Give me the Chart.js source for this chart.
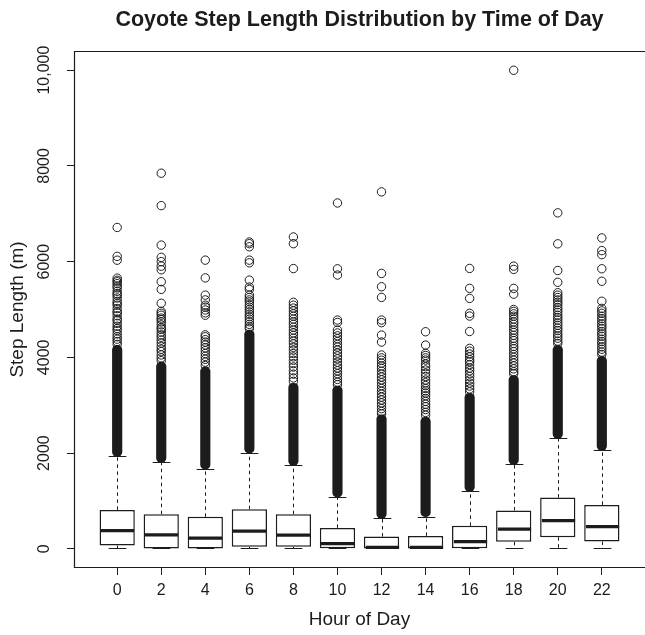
<!DOCTYPE html>
<html>
<head>
<meta charset="utf-8">
<script src="https://cdn.jsdelivr.net/npm/chart.js@4.4.1/dist/chart.umd.min.js"></script>
<style>
  html, body { margin: 0; padding: 0; background: #fff; }
  canvas { display: block; }
</style>
</head>
<body>
<canvas id="chart" width="645" height="635"></canvas>
<script>
// Hour of day for each box (every two hours)
const hours = [0, 2, 4, 6, 8, 10, 12, 14, 16, 18, 20, 22];

// Five-number summaries of step length (m)
const lowerWhisker  = [0, 0, 0, 0, 0, 0, 0, 0, 0, 0, 0, 0];
const lowerQuartile = [69, 8, 5, 42, 42, 15, 5, 5, 15, 146, 244, 153];
const medians       = [382, 292, 223, 369, 286, 111, 32, 32, 153, 411, 591, 465];
const upperQuartile = [814, 724, 668, 828, 724, 438, 257, 271, 480, 800, 1071, 918];
const upperWhisker  = [1934, 1809, 1670, 2003, 1746, 1085, 640, 674, 1204, 1767, 2310, 2060];

// Above each whisker the outliers overlap into one solid column up to here
const solidOutlierTop = [4250, 3900, 3800, 4570, 3460, 3400, 2800, 2750, 3250, 3620, 4250, 4020];

// Individually visible outliers above the solid column, per hour
const outliersH00 = [6714, 6110, 6030, 5655, 5610, 5580, 5540, 5490, 5450, 5380, 5330, 5300, 5240, 5170, 5130, 5090, 5020, 4960, 4930, 4870, 4800, 4770, 4710, 4650, 4600, 4560, 4490, 4430, 4380, 4330, 4270];
const outliersH02 = [7847, 7170, 6345, 6090, 6000, 5905, 5830, 5580, 5420, 5130, 4960, 4920, 4880, 4820, 4790, 4740, 4680, 4620, 4590, 4530, 4470, 4420, 4360, 4300, 4230, 4170, 4120, 4050, 3990, 3930];
const outliersH04 = [6031, 5660, 5300, 5200, 5090, 5050, 4990, 4930, 4880, 4470, 4430, 4370, 4320, 4260, 4200, 4140, 4080, 4020, 3960, 3900, 3830];
const outliersH06 = [6410, 6375, 6310, 6031, 5975, 5614, 5470, 5420, 5300, 5250, 5200, 5160, 5100, 5050, 5000, 4950, 4900, 4850, 4800, 4745, 4690, 4640, 4600];
const outliersH08 = [6515, 6375, 5855, 5150, 5090, 5030, 4970, 4910, 4860, 4800, 4740, 4690, 4630, 4570, 4510, 4460, 4400, 4340, 4280, 4210, 4150, 4080, 4010, 3940, 3870, 3800, 3720, 3650, 3570, 3500];
const outliersH10 = [7225, 5850, 5720, 4780, 4730, 4570, 4510, 4450, 4390, 4330, 4270, 4215, 4150, 4090, 4030, 3970, 3900, 3840, 3780, 3720, 3660, 3600, 3540, 3480, 3430];
const outliersH12 = [7457, 5754, 5475, 5253, 4780, 4725, 4466, 4320, 4050, 3990, 3940, 3880, 3820, 3770, 3710, 3650, 3590, 3530, 3470, 3410, 3350, 3290, 3230, 3170, 3110, 3050, 2990, 2930, 2870, 2820];
const outliersH14 = [4535, 4257, 4084, 4040, 3990, 3944, 3860, 3805, 3736, 3667, 3600, 3527, 3470, 3410, 3350, 3300, 3256, 3200, 3140, 3080, 3020, 2970, 2910, 2850, 2790];
const outliersH16 = [5858, 5441, 5232, 4919, 4863, 4540, 4188, 4130, 4070, 4010, 3950, 3909, 3850, 3777, 3720, 3660, 3600, 3530, 3464, 3400, 3340, 3280];
const outliersH18 = [9997, 5906, 5837, 5441, 5320, 5000, 4960, 4910, 4860, 4800, 4740, 4690, 4630, 4570, 4520, 4460, 4400, 4350, 4290, 4230, 4180, 4120, 4060, 4000, 3940, 3880, 3820, 3760, 3700, 3660];
const outliersH20 = [7019, 6372, 5815, 5568, 5350, 5300, 5250, 5200, 5150, 5100, 5040, 4990, 4940, 4880, 4830, 4780, 4720, 4670, 4610, 4560, 4500, 4450, 4400, 4340, 4290];
const outliersH22 = [6495, 6230, 6146, 5851, 5590, 5172, 5023, 4970, 4920, 4860, 4810, 4760, 4700, 4650, 4600, 4540, 4490, 4440, 4380, 4330, 4280, 4220, 4170, 4110, 4060];
const outliersByHour = [outliersH00, outliersH02, outliersH04, outliersH06, outliersH08, outliersH10,
                        outliersH12, outliersH14, outliersH16, outliersH18, outliersH20, outliersH22];

// Axis ticks
const yTicks = [0, 2000, 4000, 6000, 8000, 10000];
const yTickLabels = ['0', '2000', '4000', '6000', '8000', '10,000'];

const INK = '#1c1c1c';
const FONT = "'Liberation Sans', Arial, Helvetica, sans-serif";
const TITLE = 'Coyote Step Length Distribution by Time of Day';

const boxData = hours.map((h, i) => ({ x: h, y: [lowerQuartile[i], upperQuartile[i]] }));
const solidData = hours.map((h, i) => ({ x: h, y: [upperWhisker[i], solidOutlierTop[i]] }));
const outlierData = [];
hours.forEach((h, i) => outliersByHour[i].forEach(v => outlierData.push({ x: h, y: v })));

// Whiskers, caps and medians, positioned through the chart scales
const boxDetails = {
  id: 'boxDetails',
  afterDatasetsDraw(chart) {
    const { ctx, scales: { x, y } } = chart;
    const step = x.getPixelForValue(hours[1]) - x.getPixelForValue(hours[0]);
    const half = step * 0.4;
    const capHalf = half * 0.5;
    ctx.save();
    ctx.strokeStyle = INK;
    hours.forEach((h, i) => {
      const cx = Math.round(x.getPixelForValue(h)) + 0.5;
      const yLo = y.getPixelForValue(lowerWhisker[i]);
      const yQ1 = y.getPixelForValue(lowerQuartile[i]);
      const yMed = y.getPixelForValue(medians[i]);
      const yQ3 = y.getPixelForValue(upperQuartile[i]);
      const yHi = y.getPixelForValue(upperWhisker[i]);
      // dashed whiskers
      ctx.lineWidth = 1;
      ctx.setLineDash([3.5, 3.5]);
      ctx.beginPath();
      ctx.moveTo(cx, yQ3); ctx.lineTo(cx, yHi);
      if (yLo - yQ1 > 2) { ctx.moveTo(cx, yQ1); ctx.lineTo(cx, yLo); }
      ctx.stroke();
      ctx.setLineDash([]);
      // caps
      ctx.lineWidth = 1.2;
      ctx.beginPath();
      ctx.moveTo(cx - capHalf, Math.round(yHi) + 0.5); ctx.lineTo(cx + capHalf, Math.round(yHi) + 0.5);
      ctx.moveTo(cx - capHalf, Math.round(yLo) - 0.5); ctx.lineTo(cx + capHalf, Math.round(yLo) - 0.5);
      ctx.stroke();
      // median
      ctx.lineWidth = 3.2;
      ctx.beginPath();
      ctx.moveTo(cx - half + 1, yMed); ctx.lineTo(cx + half - 1, yMed);
      ctx.stroke();
    });
    ctx.restore();
  }
};

// Plot frame and main title
const frameAndTitle = {
  id: 'frameAndTitle',
  afterDraw(chart) {
    const { ctx, chartArea: a } = chart;
    ctx.save();
    ctx.strokeStyle = INK;
    ctx.lineWidth = 1.2;
    const l = Math.round(a.left) + 0.5, t = Math.round(a.top) + 0.5, b = Math.round(a.bottom) - 0.5;
    ctx.beginPath();
    ctx.moveTo(a.right, t); ctx.lineTo(l, t); ctx.lineTo(l, b); ctx.lineTo(a.right, b);
    ctx.stroke();
    ctx.fillStyle = INK;
    ctx.font = 'bold 21.5px ' + FONT;
    ctx.textAlign = 'center';
    ctx.textBaseline = 'alphabetic';
    ctx.fillText(TITLE, (a.left + a.right) / 2, 26);
    ctx.restore();
  }
};

new Chart(document.getElementById('chart'), {
  type: 'bar',
  data: {
    datasets: [
      {
        type: 'scatter',
        data: outlierData,
        pointStyle: 'circle',
        pointRadius: 4.2,
        pointBorderWidth: 1,
        pointBorderColor: INK,
        pointBackgroundColor: 'rgba(0,0,0,0)',
        order: 1
      },
      {
        data: solidData,
        backgroundColor: INK,
        borderWidth: 0,
        borderSkipped: false,
        borderRadius: 4.5,
        barThickness: 9.5,
        grouped: false,
        order: 2
      },
      {
        data: boxData,
        backgroundColor: '#ffffff',
        borderColor: INK,
        borderWidth: 1.5,
        borderSkipped: false,
        categoryPercentage: 0.8,
        barPercentage: 1.0,
        grouped: false,
        order: 3
      }
    ]
  },
  options: {
    responsive: false,
    animation: false,
    devicePixelRatio: 1,
    layout: { autoPadding: false, padding: { top: 51, left: 0, right: 0, bottom: 0 } },
    plugins: { legend: { display: false }, tooltip: { enabled: false }, title: { display: false } },
    scales: {
      x: {
        type: 'linear',
        min: -1.96,
        max: 23.96,
        offset: false,
        afterBuildTicks: (s) => { s.ticks = hours.map(v => ({ value: v })); },
        afterFit: (s) => { s.height = 67; },
        ticks: { color: INK, padding: 6, font: { family: FONT, size: 16 }, maxRotation: 0, autoSkip: false,
                 callback: (v) => String(v) },
        grid: { offset: false, drawOnChartArea: false, drawTicks: true, tickLength: 7, color: INK, lineWidth: 1 },
        border: { display: false },
        title: { display: true, text: 'Hour of Day', color: INK, font: { family: FONT, size: 19, lineHeight: 1.2 },
                 padding: { top: 0, bottom: 3.5 } }
      },
      y: {
        type: 'linear',
        min: -400,
        max: 10400,
        afterBuildTicks: (s) => { s.ticks = yTicks.map(v => ({ value: v })); },
        afterFit: (s) => { s.width = 74; },
        ticks: { color: INK, padding: -2, font: { family: FONT, size: 16 }, minRotation: 90, maxRotation: 90,
                 crossAlign: 'center', autoSkip: false,
                 callback: (v) => yTickLabels[yTicks.indexOf(v)] },
        grid: { drawOnChartArea: false, drawTicks: true, tickLength: 7, color: INK, lineWidth: 1 },
        border: { display: false },
        title: { display: true, text: 'Step Length (m)', color: INK, font: { family: FONT, size: 19, lineHeight: 1.2 },
                 padding: { top: 6.5, bottom: 0 } }
      }
    }
  },
  plugins: [boxDetails, frameAndTitle]
});
</script>
</body>
</html>
